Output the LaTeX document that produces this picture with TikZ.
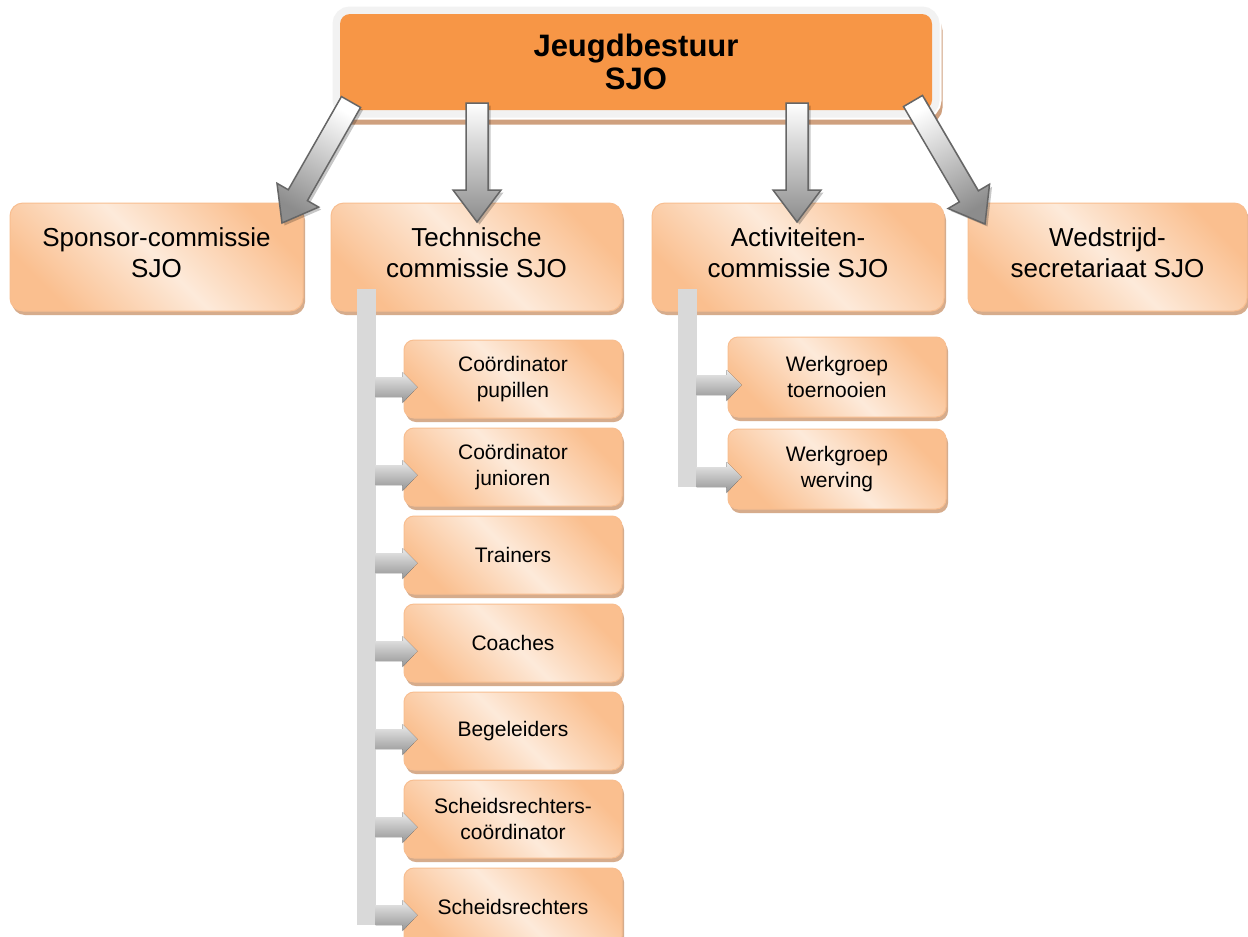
\documentclass[tikz,border=0pt]{standalone}
\usepackage{fontspec}
\setmainfont{Liberation Sans}
\usetikzlibrary{calc}
\definecolor{orangeT}{HTML}{F79646}
\definecolor{peachD}{HTML}{FABF8F}
\definecolor{peachL}{HTML}{FDEADA}
\definecolor{peachB}{HTML}{F8BE90}
\definecolor{shadowP}{HTML}{D6AC8C}
\definecolor{shadowT}{HTML}{CFA07E}
\definecolor{frameG}{HTML}{F2F2F2}
\definecolor{barG}{HTML}{D9D9D9}
\definecolor{arrowO}{HTML}{666666}
\tikzset{
  l2box/.style={rounded corners=13pt, draw=peachB, line width=1pt,
    top color=peachD, bottom color=peachD, middle color=peachL, shading angle=-45,
    preaction={fill=shadowP, transform canvas={shift={(2pt,-4pt)}}},
    inner sep=0pt, minimum height=108pt},
  l2text/.style={align=center, inner sep=0pt, text=black, font=\fontsize{26}{31}\selectfont},
  subbox/.style={l2box, rounded corners=10pt, align=center, text=black,
    font=\fontsize{21}{26}\selectfont, minimum width=218pt, minimum height=78pt},
  topbox/.style={fill=orangeT, rounded corners=10pt, minimum width=592pt, minimum height=96pt,
    align=center, inner sep=0pt, font=\fontsize{31}{33}\selectfont\bfseries,
    preaction={draw=shadowT, line width=15pt, transform canvas={shift={(3pt,-7pt)}}},
    preaction={draw=white, line width=19pt},
    preaction={draw=frameG, line width=15pt}},
  blockarr/.style={draw=arrowO, line width=1.5pt, line join=miter, top color=white, bottom color=black!45},
  stubst/.style={top color=white!92!black, bottom color=black!42},
  barst/.style={fill=barG}
}
\newcommand\blockarrow[3]{%
  \coordinate (#1h) at ($(#2)!32pt!(#1)$);
  \fill[black, opacity=0.22, transform canvas={shift={(2.5pt,-2.5pt)}}]
    ($(#1)!11pt!90:(#2)$) -- ($(#1h)!11pt!-90:(#1)$) -- ($(#1h)!24pt!-90:(#1)$) -- (#2)
    -- ($(#1h)!24pt!90:(#1)$) -- ($(#1h)!11pt!90:(#1)$) -- ($(#1)!11pt!-90:(#2)$) -- cycle;
  \draw[blockarr, shading angle=#3]
    ($(#1)!11pt!90:(#2)$) -- ($(#1h)!11pt!-90:(#1)$) -- ($(#1h)!24pt!-90:(#1)$) -- (#2)
    -- ($(#1h)!24pt!90:(#1)$) -- ($(#1h)!11pt!90:(#1)$) -- ($(#1)!11pt!-90:(#2)$) -- cycle;}
\newcommand\stubarrow[2]{%
  \fill[stubst] let \p1=($(#2.west)+(0,8)$), \p2=(#1) in
    (\x2,\y1+10pt) -- (\x1-1pt,\y1+10pt) -- (\x1-1pt,\y1+15pt) -- (\x1+14pt,\y1)
    -- (\x1-1pt,\y1-16pt) -- (\x1-1pt,\y1-10pt) -- (\x2,\y1-10pt) -- cycle;}
\begin{document}
\begin{tikzpicture}[x=1pt,y=-1pt]
\useasboundingbox[fill=white] (0,0) rectangle (1248,937);

% level 2
\node[l2box, minimum width=293pt] (spon) at (156.5,257) {};
\node[l2box, minimum width=291pt] (tech) at (476.5,257) {};
\node[l2box, minimum width=292pt] (act) at (798,257) {};
\node[l2box, minimum width=279pt] (wed) at (1107.5,257) {};
\node[l2text] (sponT) at ($(spon)+(0,-4.5)$) {Sponsor-commissie\\SJO};
\node[l2text] (techT) at ($(tech)+(0,-4.5)$) {Technische\\commissie SJO};
\node[l2text] (actT) at ($(act)+(0,-4.5)$) {Activiteiten-\\commissie SJO};
\node[l2text] (wedT) at ($(wed)+(0,-4.5)$) {Wedstrijd-\\secretariaat SJO};

% technische subs
\node[subbox] (cp) at (513,379) {Coördinator\\pupillen};
\node[subbox] (cj) at (513,467) {Coördinator\\junioren};
\node[subbox] (tr) at (513,555) {Trainers};
\node[subbox] (co) at (513,643) {Coaches};
\node[subbox] (be) at (513,731) {Begeleiders};
\node[subbox] (sc) at (513,819) {Scheidsrechters-\\coördinator};
\node[subbox] (sr) at (513,907) {Scheidsrechters};

% activiteiten subs
\node[subbox, minimum height=80pt] (wt) at (837,377) {Werkgroep\\toernooien};
\node[subbox, minimum height=80pt] (wv) at (837,469) {Werkgroep\\werving};

% bars
\coordinate (tbar) at ($(tech.south west)+(45,0)$);
\coordinate (abar) at ($(act.south west)+(45,0)$);
\fill[barst] ($(tech.south west)+(26,-23)$) rectangle ($(sr.west)+(-28,18)$);
\fill[barst] ($(act.south west)+(26,-23)$) rectangle ($(wv.west)+(-31,18)$);
\foreach \b in {cp,cj,tr,co,be,sc,sr} {\stubarrow{tbar}{\b}}
\foreach \b in {wt,wv} {\stubarrow{abar}{\b}}

% top
\node[topbox] (jb) at (636,62) {Jeugdbestuur\\SJO};

% block arrows
\coordinate (a1s) at (351,102); \coordinate (a1e) at (282,223);
\coordinate (a2s) at (477,103); \coordinate (a2e) at (477,222);
\coordinate (a3s) at (797,103); \coordinate (a3e) at (797,222);
\coordinate (a4s) at (913,101); \coordinate (a4e) at (985,224);
\blockarrow{a1s}{a1e}{-30}
\blockarrow{a2s}{a2e}{0}
\blockarrow{a3s}{a3e}{0}
\blockarrow{a4s}{a4e}{30}
\end{tikzpicture}
\end{document}
